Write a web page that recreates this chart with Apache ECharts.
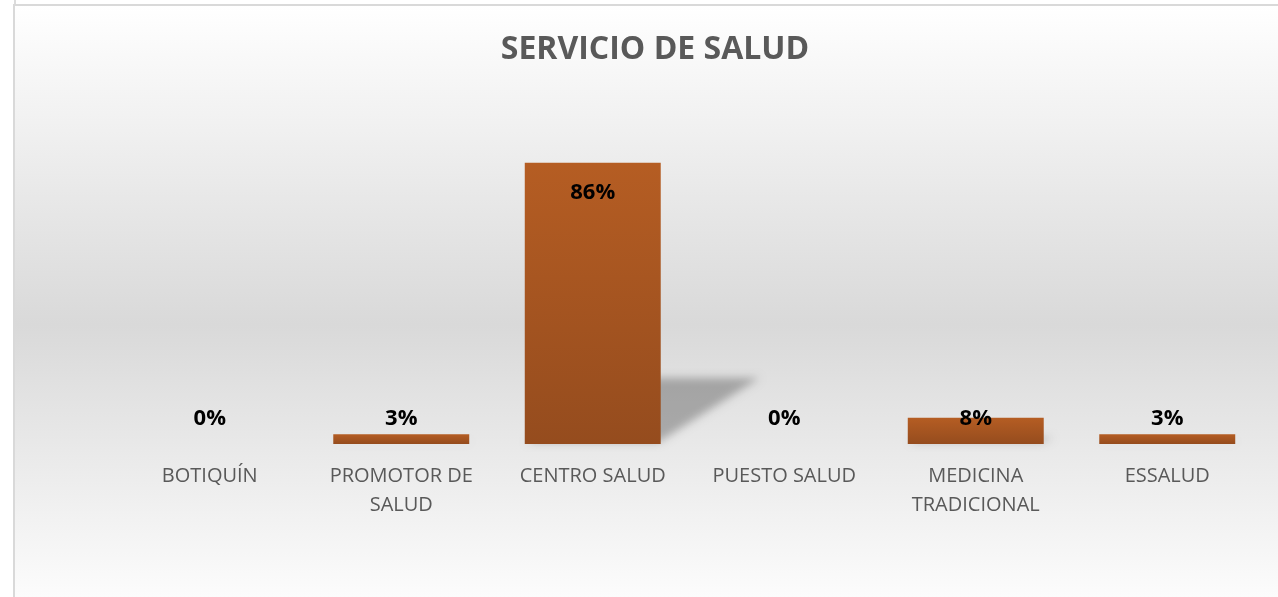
<!DOCTYPE html>
<html>
<head>
<meta charset="utf-8">
<title>SERVICIO DE SALUD</title>
<script src="https://cdn.jsdelivr.net/npm/echarts@6/dist/echarts.min.js"></script>
<style>
  html, body { margin: 0; padding: 0; background: #ffffff; }
  #chart { width: 1278px; height: 597px; }
</style>
</head>
<body>
<div id="chart"></div>
<script>
// Categories and percentages for the health-service chart
const categories = ['BOTIQUÍN', 'PROMOTOR DE\nSALUD', 'CENTRO SALUD', 'PUESTO SALUD', 'MEDICINA\nTRADICIONAL', 'ESSALUD'];
const values = [0, 3, 86, 0, 8, 3];
const valueMax = 100;

const chart = echarts.init(document.getElementById('chart'), null, { renderer: 'canvas' });

const BAR_RATIO = 0.71;
// The shadow shape is drawn far to the left and only its blurred canvas shadow is
// shifted back under the bar, so the floor shadow has soft edges everywhere.
const SHADOW_SHIFT = 3000;

// Tall bars carry their label inside the top; short ones show it above the base line
const barData = values.map(v => ({
  value: v,
  label: v >= 50
    ? { position: 'insideTop', distance: 19 }
    : { position: 'insideBottom', distance: 14 }
}));

// Perspective floor shadow cast behind each bar
function renderShadow(params, api) {
  const v = api.value(1);
  const top = api.coord([api.value(0), v]);
  const base = api.coord([api.value(0), 0]);
  const band = api.size([1, 0])[0];
  const w = band * BAR_RATIO;
  const x0 = base[0] - w / 2 - SHADOW_SHIFT;
  const x1 = base[0] + w / 2 - SHADOW_SHIFT;
  const h = base[1] - top[1];
  if (h <= 0) return null;
  const dx = h * 0.35;
  const dy = h * 0.235;
  return {
    type: 'polygon',
    shape: {
      points: [
        [x0 + 2, base[1] - 2],
        [x1 - 2, base[1] - 2],
        [x1 + dx, base[1] - dy],
        [x0 + dx, base[1] - dy]
      ]
    },
    style: {
      fill: '#000000',
      shadowBlur: 9,
      shadowOffsetX: SHADOW_SHIFT,
      shadowOffsetY: 0,
      shadowColor: 'rgba(0,0,0,0.27)'
    }
  };
}

const option = {
  backgroundColor: '#ffffff',
  animation: false,
  graphic: [
    {
      type: 'rect',
      z: -10,
      silent: true,
      shape: { x: 14, y: 5, width: 1290, height: 615 },
      style: {
        fill: new echarts.graphic.LinearGradient(0, 0, 0, 1, [
          { offset: 0, color: '#ffffff' },
          { offset: 0.52, color: '#d9d9d9' },
          { offset: 1, color: '#ffffff' }
        ]),
        stroke: '#d9d9d9',
        lineWidth: 2
      }
    },
    {
      type: 'line',
      z: -9,
      silent: true,
      shape: { x1: 15, y1: 0, x2: 15, y2: 4 },
      style: { stroke: '#dcdcdc', lineWidth: 2 }
    }
  ],
  title: {
    text: 'SERVICIO DE SALUD',
    left: 650,
    top: 29,
    textAlign: 'center',
    textStyle: {
      fontFamily: 'Open Sans',
      fontWeight: 'bold',
      fontSize: 32,
      color: '#595959'
    }
  },
  grid: {
    left: 114,
    right: 15,
    top: 117,
    bottom: 153,
    containLabel: false
  },
  xAxis: {
    type: 'category',
    data: categories,
    axisLine: { show: false },
    axisTick: { show: false },
    splitLine: { show: false },
    axisLabel: {
      interval: 0,
      margin: 18,
      fontFamily: 'Open Sans',
      fontSize: 20,
      lineHeight: 29,
      color: '#595959'
    }
  },
  yAxis: {
    type: 'value',
    min: 0,
    max: valueMax,
    show: false,
    splitLine: { show: false }
  },
  series: [
    {
      type: 'custom',
      z: 1,
      silent: true,
      clip: false,
      renderItem: renderShadow,
      data: values.map((v, i) => [i, v])
    },
    {
      type: 'bar',
      z: 2,
      barWidth: (BAR_RATIO * 100) + '%',
      data: barData,
      itemStyle: {
        color: new echarts.graphic.LinearGradient(0, 0, 0, 1, [
          { offset: 0, color: '#b55d23' },
          { offset: 1, color: '#954c1e' }
        ])
      },
      label: {
        show: true,
        formatter: '{c}%',
        fontFamily: 'Open Sans',
        fontWeight: 'bold',
        fontSize: 22,
        color: '#000000'
      }
    }
  ]
};

chart.setOption(option);
</script>
</body>
</html>
